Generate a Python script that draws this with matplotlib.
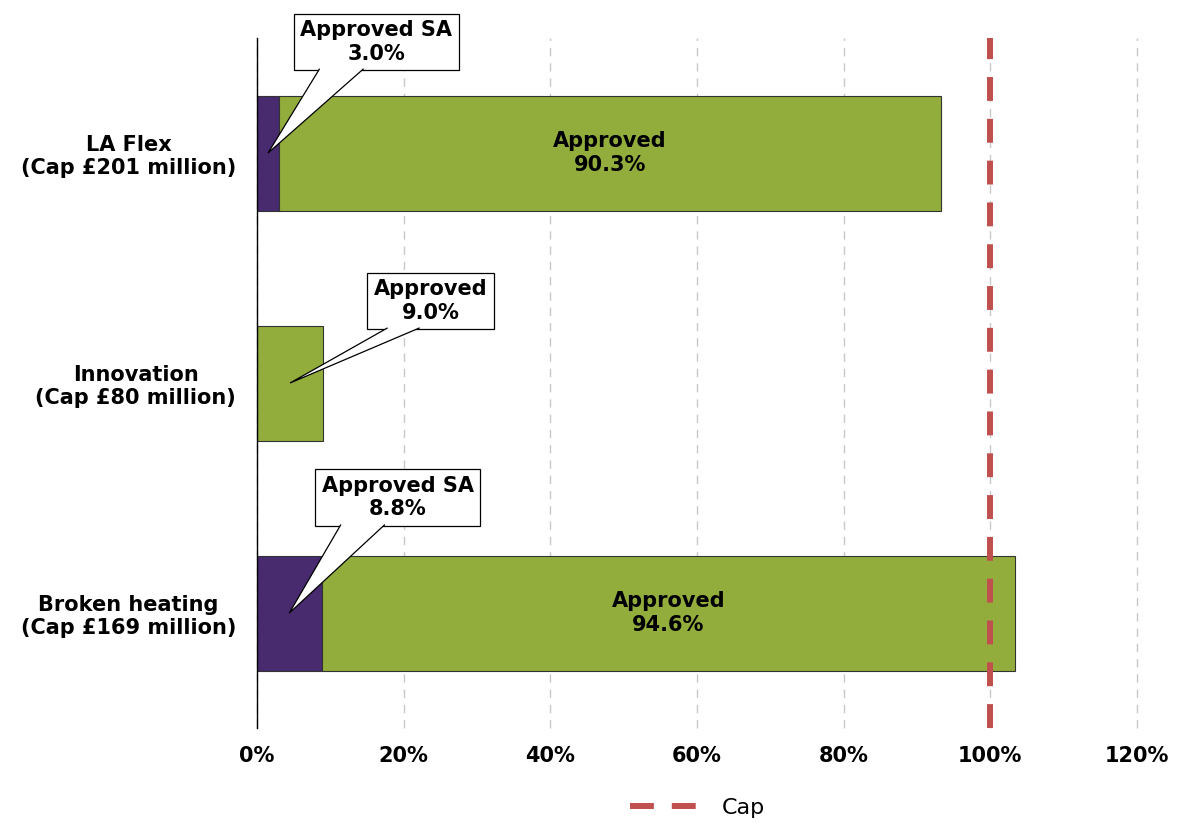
import numpy as np
import matplotlib
matplotlib.use('Agg')
import matplotlib.pyplot as plt
from matplotlib.patches import Polygon
from matplotlib.transforms import IdentityTransform

# ---------- data ----------
categories = ['LA Flex\n(Cap £201 million)',
              'Innovation\n(Cap £80 million)',
              'Broken heating\n(Cap £169 million)']
approved_sa = [3.0, 0.0, 8.8]
approved = [90.3, 9.0, 94.6]
cap = 100
x_ticks = [0, 20, 40, 60, 80, 100, 120]

col_sa = '#482A6F'
col_ap = '#93AD3D'
col_cap = '#C0504D'

plt.rcParams['font.family'] = ['DejaVu Sans']

fig = plt.figure(figsize=(11.78, 8.23), dpi=100)
ax = fig.add_axes([0.2182, 0.1154, 0.747, 0.8384])

y = np.arange(len(categories))
bars_sa = ax.barh(y, approved_sa, height=0.5, color=col_sa, edgecolor='#333333',
                  linewidth=0.8, zorder=3)
bars_ap = ax.barh(y, approved, left=approved_sa, height=0.5, color=col_ap,
                  edgecolor='#333333', linewidth=0.8, zorder=3)

cap_line = ax.axvline(cap, color=col_cap, lw=4.3, linestyle=(0, (4, 3)),
                      zorder=4, label='Cap')

ax.set_xlim(0, 120)
ax.set_ylim(2.5, -0.5)
ax.set_xticks(x_ticks)
ax.set_xticklabels([f'{t}%' for t in x_ticks], fontsize=15, fontweight='bold')
ax.set_yticks(y)
ax.set_yticklabels(categories, fontsize=15, fontweight='bold')
for lbl in ax.get_yticklabels():
    lbl.set_multialignment('center')
ax.tick_params(axis='both', length=0)
ax.tick_params(axis='y', pad=15)
ax.tick_params(axis='x', pad=13)

ax.grid(axis='x', color='#C8C8C8', linestyle=(0, (6, 5)), linewidth=1, zorder=0)
for gl in ax.get_xgridlines():
    gl.set_clip_on(False)
ax.set_axisbelow(True)
for s in ['top', 'right', 'bottom']:
    ax.spines[s].set_visible(False)
ax.spines['left'].set_color('black')
ax.spines['left'].set_linewidth(1)
ax.spines['left'].set_zorder(5)

# ---------- labels ----------
# big segments get a label inside, small ones a callout box
callouts = []
for i in range(len(categories)):
    segs = [('Approved SA', approved_sa[i], 0.0),
            ('Approved', approved[i], approved_sa[i])]
    for name, w, left in segs:
        if w <= 0:
            continue
        xc = left + w / 2
        txt = f'{name}\n{w:.1f}%'
        if w > 20:
            ax.text(xc, i, txt, ha='center', va='center', fontsize=15,
                    fontweight='bold', zorder=6)
        else:
            callouts.append((xc, i, txt))

# box centre offsets (points) from the segment centre, wedge half widths (px)
offsets = {0: (78, 80), 1: (101, 59), 2: (78, 83)}
half_w = {0: 22, 1: 16, 2: 22}

ann_list = []
for xc, yi, txt in callouts:
    a = ax.annotate(txt, xy=(xc, yi), xytext=offsets[yi], textcoords='offset points',
                    ha='center', va='center', fontsize=15, fontweight='bold',
                    multialignment='center', zorder=8, annotation_clip=False,
                    bbox=dict(boxstyle='square,pad=0.32', fc='white',
                              ec='black', lw=0.9))
    ann_list.append((a, xc, yi, half_w[yi]))

fig.canvas.draw()
renderer = fig.canvas.get_renderer()
for a, xc, yi, hw in ann_list:
    bb = a.get_bbox_patch().get_window_extent(renderer)
    tip = ax.transData.transform((xc, yi))
    bx = bb.x0 + 0.29 * bb.width
    by = bb.y0 + 1.5
    poly = Polygon([(bx - hw, by), tuple(tip), (bx + hw, by)], closed=False,
                   fc='white', ec='black', lw=0.9, transform=IdentityTransform(),
                   clip_on=False, zorder=9)
    ax.add_patch(poly)

fig.legend(handles=[cap_line], labels=['Cap'], loc='center',
           bbox_to_anchor=(0.592, 0.018), frameon=False, fontsize=16,
           handlelength=3.3, handletextpad=0.8)

fig.savefig('out.png', dpi=100)
